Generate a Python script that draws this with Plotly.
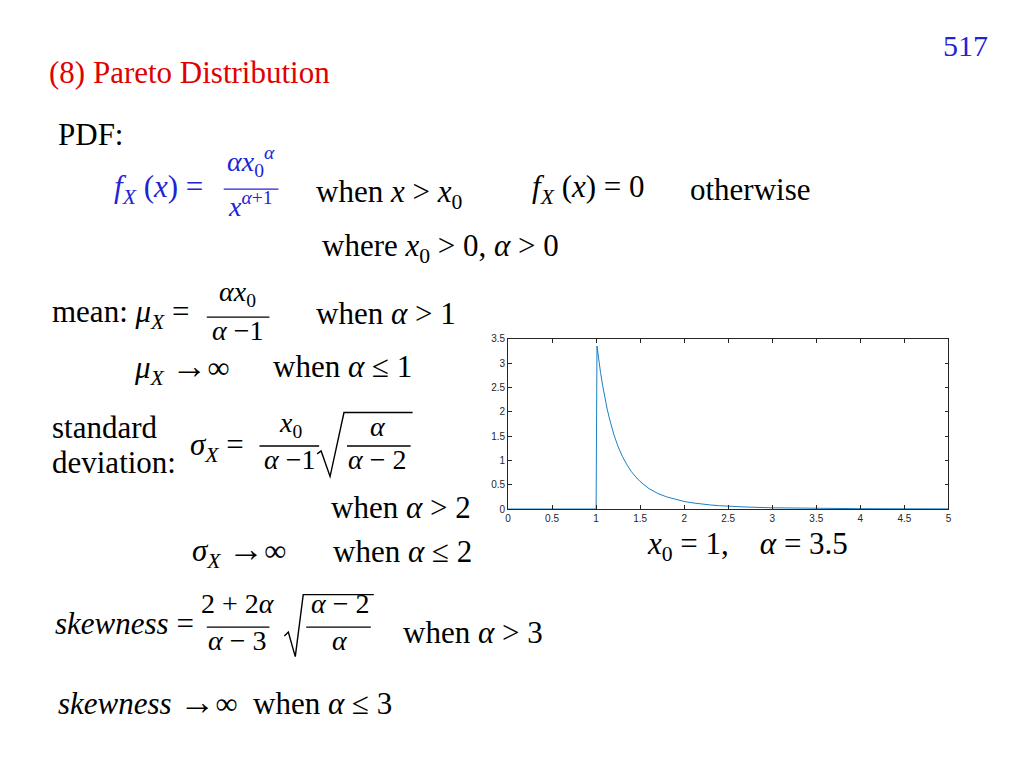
"""
Slide 517: Pareto distribution, formulas on the left and the pdf plot
(x0 = 1, alpha = 3.5) on the right, redrawn with plotly.
"""
import plotly.graph_objects as go

W = 1024
H = 768

# values
pdf_x = [0, 0.5, 1.0, 1.0, 1.01, 1.03, 1.05, 1.075, 1.1, 1.125, 1.15, 1.2,
         1.25, 1.3, 1.35, 1.4, 1.45, 1.5, 1.6, 1.7, 1.8, 1.9, 2.0, 2.1, 2.2,
         2.3, 2.4, 2.5, 2.7, 3.0, 3.5, 4.0, 4.5, 5.0]
pdf_y = [0, 0, 0, 0, 3.35, 3.05, 2.81, 2.53, 2.28, 2.06, 1.87, 1.54,
         1.28, 1.075, 0.91, 0.77, 0.66, 0.565, 0.42, 0.32, 0.25, 0.195,
         0.155, 0.125, 0.10, 0.083, 0.068, 0.057, 0.041, 0.025, 0.012,
         0.007, 0.0042, 0.0025]
x_ticks = [0, 0.5, 1, 1.5, 2, 2.5, 3, 3.5, 4, 4.5, 5]
x_tick_labels = ['0', '0.5', '1', '1.5', '2', '2.5', '3', '3.5', '4',
                 '4.5', '5']
y_ticks = [0, 0.5, 1, 1.5, 2, 2.5, 3, 3.5]
y_tick_labels = ['0', '0.5', '1', '1.5', '2', '2.5', '3', '3.5']

SERIF = 'Liberation Serif'
BLUE = '#2323d6'
RED = '#e00000'
AXIS = '#262626'
FS = 31
FR = 28  # numerators and denominators
NUDGE = 4  # annotation boxes sit a little low compared to the glyphs


def px(x):
    return x / W


def py(y):
    return 1 - y / H


def text(fig, x, y, s, size=FS, color='black', anchor='left'):
    fig.add_annotation(x=px(x), y=py(y - NUDGE), xref='paper', yref='paper',
                       text=s, showarrow=False, xanchor=anchor,
                       yanchor='middle',
                       font=dict(family=SERIF, size=size, color=color))


def bar(fig, x0, x1, y, color='black'):
    fig.add_shape(type='line', xref='paper', yref='paper',
                  x0=px(x0), x1=px(x1), y0=py(y), y1=py(y),
                  line=dict(color=color, width=1.3))


def frac(fig, xc, y, num, den, x0, x1, color='black', up=20, down=18):
    text(fig, xc, y - up, num, size=FR, color=color, anchor='center')
    bar(fig, x0, x1, y, color=color)
    text(fig, xc, y + down, den, size=FR, color=color, anchor='center')


def root(fig, pts):
    # radical sign drawn as a polyline through pixel points
    path = 'M ' + ' L '.join('%.5f,%.5f' % (px(a), py(b)) for a, b in pts)
    fig.add_shape(type='path', xref='paper', yref='paper', path=path,
                  line=dict(color='black', width=1.4))


A = '<i>α</i>'
ARROW = '<span style="font-size:36px">→</span>'

fig = go.Figure()
fig.add_trace(go.Scatter(x=pdf_x, y=pdf_y, mode='lines',
                         line=dict(color='#0072BD', width=0.9),
                         showlegend=False, hoverinfo='skip'))

# header
text(fig, 968, 44, '517', size=30, color=BLUE, anchor='center')
text(fig, 44, 72, '(8) Pareto Distribution', color=RED)

# pdf
text(fig, 53, 135, 'PDF:')
text(fig, 110, 190, '<i>f</i><sub><i>X</i></sub> (<i>x</i>) =', color=BLUE)
frac(fig, 249, 186, A + '<i>x</i><sub>0</sub><sup>' + A + '</sup>',
     '<i>x</i><sup>' + A + '+1</sup>', 222, 277, color=BLUE, up=24, down=20)
text(fig, 313, 195, 'when <i>x</i> > <i>x</i><sub>0</sub>')
text(fig, 530, 190, '<i>f</i><sub><i>X</i></sub> (<i>x</i>) = 0')
text(fig, 689, 190, 'otherwise')
text(fig, 319, 250, 'where <i>x</i><sub>0</sub> > 0, ' + A + ' > 0')

# mean
text(fig, 47, 317, 'mean: <i>μ</i><sub><i>X</i></sub> =')
frac(fig, 236, 316, A + '<i>x</i><sub>0</sub>', A + ' −1', 205, 268)
text(fig, 313, 316, 'when ' + A + ' > 1')
text(fig, 130, 372, '<i>μ</i><sub><i>X</i></sub> ' + ARROW + '∞')
text(fig, 270, 370, 'when ' + A + ' ≤ 1')

# standard deviation
text(fig, 47, 432, 'standard')
text(fig, 47, 468, 'deviation:')
text(fig, 186, 452, '<i>σ</i><sub><i>X</i></sub> =')
frac(fig, 289, 447, '<i>x</i><sub>0</sub>', A + ' −1', 258, 318,
     up=18, down=18)
root(fig, [(316, 455), (320, 452), (329, 478), (343, 413), (412, 413)])
frac(fig, 377, 447, A, A + ' − 2', 346, 410, up=16, down=18)
text(fig, 328, 513, 'when ' + A + ' > 2')
text(fig, 188, 558, '<i>σ</i><sub><i>X</i></sub> ' + ARROW + '∞')
text(fig, 330, 558, 'when ' + A + ' ≤ 2')

# parameters of the plot
text(fig, 646, 553, '<i>x</i><sub>0</sub> = 1,    ' + A + ' = 3.5')

# skewness
text(fig, 50, 631, '<i>skewness</i> =')
frac(fig, 236, 631, '2 + 2' + A, A + ' − 3', 205, 268)
root(fig, [(283, 640), (287, 636), (294, 661), (302, 598), (373, 598)])
frac(fig, 339, 631, A + ' − 2', A, 305, 370)
text(fig, 400, 640, 'when ' + A + ' > 3')
text(fig, 53, 711, '<i>skewness</i> ' + ARROW + '∞  when ' + A + ' ≤ 3')

axis_style = dict(showgrid=False, zeroline=False, showline=True,
                  linecolor=AXIS, linewidth=0.8, mirror='ticks',
                  ticks='inside', ticklen=4, tickcolor=AXIS, tickwidth=0.8,
                  tickfont=dict(family='Liberation Sans', size=10,
                                color=AXIS))
fig.update_xaxes(range=[0, 5], tickvals=x_ticks, ticktext=x_tick_labels,
                 domain=[px(508), px(951)], **axis_style)
fig.update_yaxes(range=[0, 3.5], tickvals=y_ticks, ticktext=y_tick_labels,
                 domain=[py(511), py(338)], **axis_style)
fig.update_layout(width=W, height=H, margin=dict(l=0, r=0, t=0, b=0),
                  paper_bgcolor='white', plot_bgcolor='white',
                  showlegend=False)
fig.write_html('out.html', config={'displayModeBar': False},
               post_script="document.body.style.margin='0';")
